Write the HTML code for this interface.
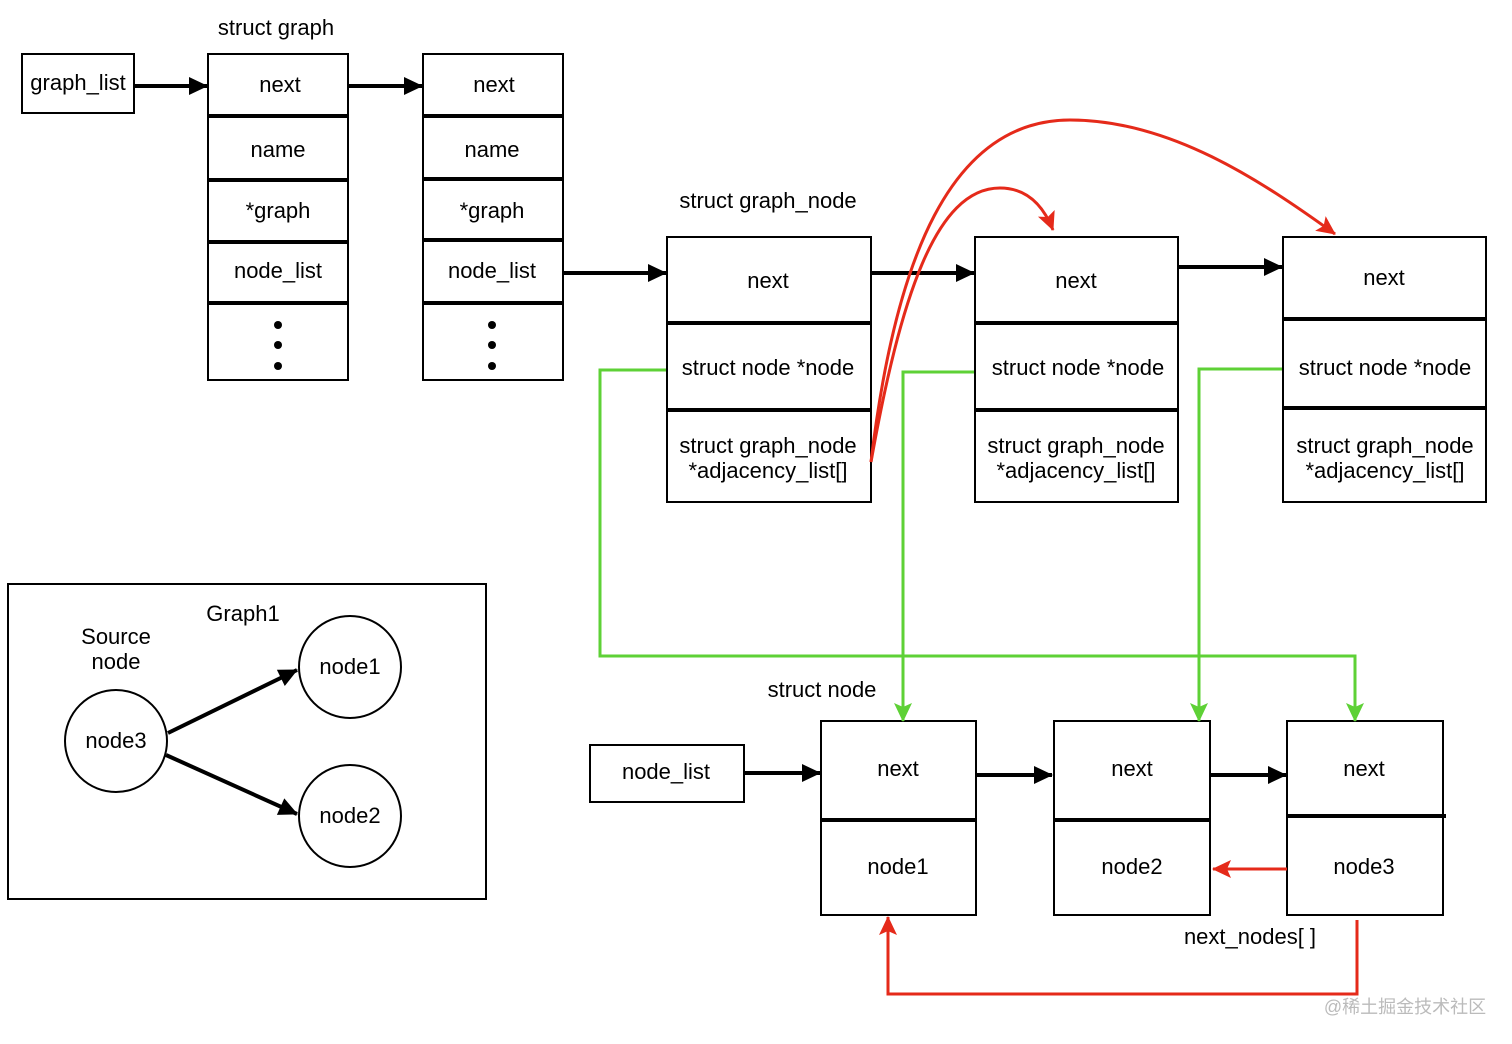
<!DOCTYPE html>
<html><head><meta charset="utf-8"><style>body{margin:0;background:#fff}svg{display:block}</style></head>
<body>
<svg width="1512" height="1044" viewBox="0 0 1512 1044" xmlns="http://www.w3.org/2000/svg" font-family="Liberation Sans, sans-serif" font-size="22" text-anchor="middle">
<defs>
<marker id="bk" markerWidth="24" markerHeight="24" refX="20" refY="12" orient="auto" markerUnits="userSpaceOnUse"><path d="M2,3 L21,12 L2,21 z" fill="#000"/></marker>
<marker id="rd" markerWidth="24" markerHeight="24" refX="20" refY="12" orient="auto" markerUnits="userSpaceOnUse"><path d="M2,3 L21,12 L2,21 L6,12 z" fill="#e52a1a"/></marker>
<marker id="gr" markerWidth="24" markerHeight="24" refX="20" refY="12" orient="auto" markerUnits="userSpaceOnUse"><path d="M2,3 L21,12 L2,21 L6,12 z" fill="#5ed136"/></marker>
</defs>
<g fill="none" stroke="#000" stroke-width="2">
<rect x="22" y="54" width="112" height="59"/>
<rect x="208" y="54" width="140" height="326"/>
<rect x="423" y="54" width="140" height="326"/>
<rect x="667" y="237" width="204" height="265"/>
<rect x="975" y="237" width="203" height="265"/>
<rect x="1283" y="237" width="203" height="265"/>
<rect x="590" y="745" width="154" height="57"/>
<rect x="821" y="721" width="155" height="194"/>
<rect x="1054" y="721" width="156" height="194"/>
<rect x="1287" y="721" width="156" height="194"/>
<rect x="8" y="584" width="478" height="315"/>
<circle cx="350" cy="667" r="51"/><circle cx="350" cy="816" r="51"/><circle cx="116" cy="741" r="51"/>
</g>
<g stroke="#000" stroke-width="4">
<line x1="208" y1="116" x2="348" y2="116"/><line x1="208" y1="180" x2="348" y2="180"/><line x1="208" y1="242" x2="348" y2="242"/><line x1="208" y1="303" x2="348" y2="303"/>
<line x1="423" y1="116" x2="563" y2="116"/><line x1="423" y1="179" x2="563" y2="179"/><line x1="423" y1="240" x2="563" y2="240"/><line x1="423" y1="303" x2="563" y2="303"/>
<line x1="667" y1="323" x2="871" y2="323"/><line x1="667" y1="410" x2="871" y2="410"/>
<line x1="975" y1="323" x2="1178" y2="323"/><line x1="975" y1="410" x2="1178" y2="410"/>
<line x1="1283" y1="319" x2="1486" y2="319"/><line x1="1283" y1="408" x2="1486" y2="408"/>
<line x1="821" y1="820" x2="976" y2="820"/><line x1="1054" y1="820" x2="1210" y2="820"/><line x1="1287" y1="816" x2="1446" y2="816"/>
</g>
<g stroke="#000" stroke-width="4" marker-end="url(#bk)">
<line x1="134" y1="86" x2="207" y2="86"/><line x1="348" y1="86" x2="422" y2="86"/>
<line x1="563" y1="273" x2="666" y2="273"/>
<line x1="871" y1="273" x2="974" y2="273"/><line x1="1178" y1="267" x2="1282" y2="267"/>
<line x1="744" y1="773" x2="820" y2="773"/><line x1="976" y1="775" x2="1052" y2="775"/><line x1="1210" y1="775" x2="1286" y2="775"/>
<line x1="168" y1="733" x2="297" y2="670"/><line x1="166" y1="755" x2="297" y2="814"/>
</g>
<g fill="#000" stroke="none"><circle cx="278" cy="325" r="4"/><circle cx="278" cy="345" r="4"/><circle cx="278" cy="366" r="4"/><circle cx="492" cy="325" r="4"/><circle cx="492" cy="345" r="4"/><circle cx="492" cy="366" r="4"/></g>
<g fill="none" stroke="#5ed136" stroke-width="3" marker-end="url(#gr)">
<polyline points="666,370 600,370 600,656 1355,656 1355,721"/>
<polyline points="974,372 903,372 903,721"/>
<polyline points="1282,369 1199,369 1199,721"/>
</g>
<g fill="none" stroke="#e52a1a" stroke-width="3" marker-end="url(#rd)">
<path d="M871,462 C900,300 935,188 1000,188 C1030,188 1045,210 1053,230"/>
<path d="M871,462 C895,260 950,120 1070,120 C1170,120 1260,180 1335,234"/>
<line x1="1287" y1="869" x2="1213" y2="869"/>
<polyline points="1357,920 1357,994 888,994 888,917"/>
</g>
<g fill="#000">
<text x="276" y="35">struct graph</text>
<text x="78" y="90">graph_list</text>
<text x="280" y="92">next</text><text x="278" y="157">name</text><text x="278" y="218">*graph</text><text x="278" y="278">node_list</text>
<text x="494" y="92">next</text><text x="492" y="157">name</text><text x="492" y="218">*graph</text><text x="492" y="278">node_list</text>
<text x="768" y="208">struct graph_node</text>
<text x="768" y="288">next</text><text x="768" y="375">struct node *node</text><text x="768" y="453">struct graph_node</text><text x="768" y="478">*adjacency_list[]</text>
<text x="1076" y="288">next</text><text x="1078" y="375">struct node *node</text><text x="1076" y="453">struct graph_node</text><text x="1076" y="478">*adjacency_list[]</text>
<text x="1384" y="285">next</text><text x="1385" y="375">struct node *node</text><text x="1385" y="453">struct graph_node</text><text x="1385" y="478">*adjacency_list[]</text>
<text x="822" y="697">struct node</text>
<text x="666" y="779">node_list</text>
<text x="898" y="776">next</text><text x="898" y="874">node1</text>
<text x="1132" y="776">next</text><text x="1132" y="874">node2</text>
<text x="1364" y="776">next</text><text x="1364" y="874">node3</text>
<text x="1250" y="944">next_nodes[ ]</text>
<text x="243" y="621">Graph1</text>
<text x="116" y="644">Source</text><text x="116" y="669">node</text>
<text x="350" y="674">node1</text><text x="350" y="823">node2</text><text x="116" y="748">node3</text>
</g>
<text x="1405" y="1013" font-size="18" fill="#bbb" font-family="Liberation Sans, Noto Sans CJK SC, sans-serif">@稀土掘金技术社区</text>
</svg>
</body></html>
